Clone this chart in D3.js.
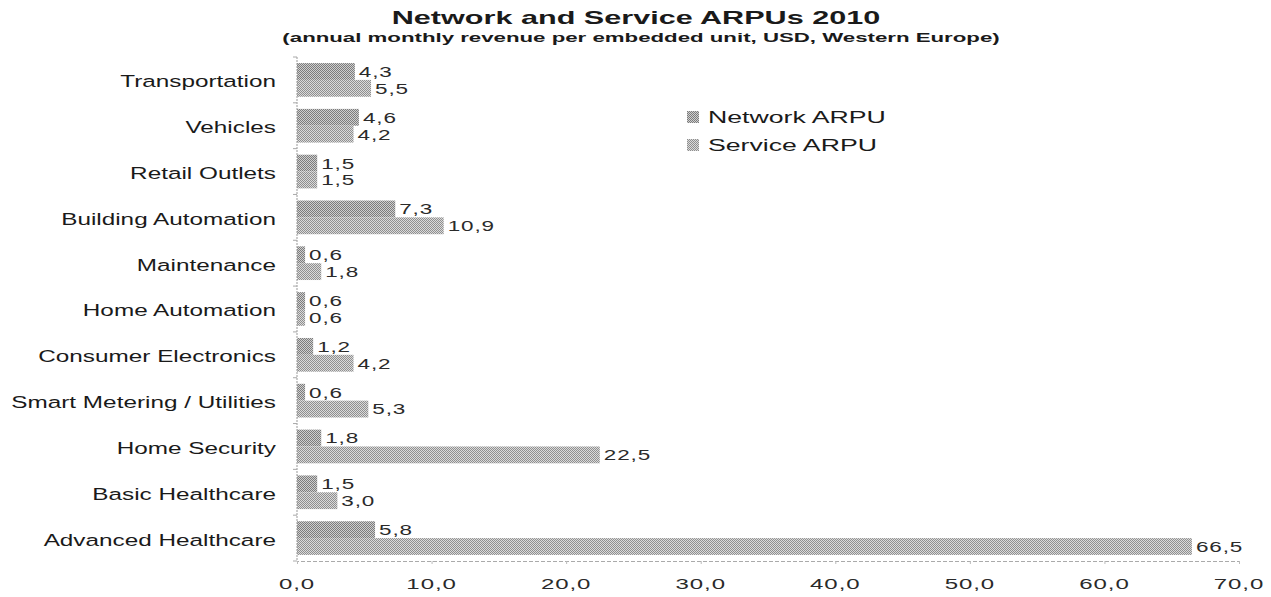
<!DOCTYPE html>
<html>
<head>
<meta charset="utf-8">
<script src="https://cdn.jsdelivr.net/npm/d3@7"></script>
<style>
  html, body { margin: 0; padding: 0; background: #fff; }
  svg { display: block; font-family: Arial, "Liberation Sans", sans-serif; }
</style>
</head>
<body>
<svg id="chart" width="1271" height="597"></svg>
<script>
// ARPU by application area, Western Europe 2010 (USD per embedded unit per month)
const categories = [
  "Transportation", "Vehicles", "Retail Outlets", "Building Automation",
  "Maintenance", "Home Automation", "Consumer Electronics",
  "Smart Metering / Utilities", "Home Security", "Basic Healthcare",
  "Advanced Healthcare"
];
const networkARPU = [4.3, 4.6, 1.5, 7.3, 0.6, 0.6, 1.2, 0.6, 1.8, 1.5, 5.8];
const serviceARPU = [5.5, 4.2, 1.5, 10.9, 1.8, 0.6, 4.2, 5.3, 22.5, 3.0, 66.5];
const seriesNames = ["Network ARPU", "Service ARPU"];
const xTicks = [0, 10, 20, 30, 40, 50, 60, 70];

const svg = d3.select("#chart");
const margin = { left: 297, right: 32, top: 57, bottom: 36 };
const W = 1271, H = 597;

// Decimal comma formatting
const locale = d3.formatLocale({ decimal: ",", thousands: ".", grouping: [3], currency: ["", ""] });
const fmt = locale.format(".1f");

// Text drawn with a horizontal stretch (wide typeface look)
function wideText(parent, x, y, str, sx, opts) {
  const t = parent.append("text")
    .attr("transform", `translate(${x},${y}) scale(${sx},1)`)
    .attr("dy", "0.35em")
    .attr("fill", opts.fill || "#1a1a1a")
    .attr("font-size", opts.size)
    .attr("text-anchor", opts.anchor || "start")
    .text(str);
  if (opts.bold) t.attr("font-weight", "bold");
  if (opts.spacing) t.attr("letter-spacing", opts.spacing);
  return t;
}

// Stippled (checkerboard) fills for the two series
const defs = svg.append("defs");
function stipple(id, dark, light) {
  const p = defs.append("pattern").attr("id", id)
    .attr("patternUnits", "userSpaceOnUse").attr("width", 2).attr("height", 2);
  p.append("rect").attr("width", 2).attr("height", 2).attr("fill", light);
  p.append("rect").attr("x", 0).attr("y", 0).attr("width", 1).attr("height", 1).attr("fill", dark);
  p.append("rect").attr("x", 1).attr("y", 1).attr("width", 1).attr("height", 1).attr("fill", dark);
}
stipple("patNet", "#7c7c7c", "#cfcfcf");
stipple("patSvc", "#8f8f8f", "#dadada");
const fills = ["url(#patNet)", "url(#patSvc)"];

const x = d3.scaleLinear().domain([0, 70]).range([margin.left, margin.left + 942]);
const y = d3.scaleBand().domain(categories)
  .range([margin.top, H - margin.bottom]).paddingInner(0).paddingOuter(0);
const inner = d3.scaleBand().domain([0, 1])
  .range([0, y.bandwidth()]).paddingInner(0).paddingOuter(0.36);

// Title
wideText(svg, 636, 18, "Network and Service ARPUs 2010", 1.7, { size: 18, bold: true, anchor: "middle" });
wideText(svg, 641, 38, "(annual monthly revenue per embedded unit, USD, Western Europe)", 1.78,
  { size: 12.5, bold: true, anchor: "middle" });

// Bars and value labels
const rows = categories.map((c, i) => ({ c, vals: [networkARPU[i], serviceARPU[i]] }));
const g = svg.append("g");
rows.forEach(r => {
  r.vals.forEach((v, s) => {
    const top = y(r.c) + inner(s);
    g.append("rect")
      .attr("x", x(0)).attr("y", top)
      .attr("width", x(v) - x(0)).attr("height", inner.bandwidth())
      .attr("fill", fills[s]);
    wideText(g, x(v) + 4, top + inner.bandwidth() / 2, fmt(v), 1.45,
      { size: 15.5, fill: "#2a2a2a", spacing: 0.6 });
  });
});

// Category axis
const yAxis = svg.append("g").attr("transform", `translate(${x(0)},0)`);
yAxis.append("line").attr("x1", 0).attr("x2", 0)
  .attr("y1", margin.top).attr("y2", H - margin.bottom)
  .attr("stroke", "#999").attr("stroke-width", 1).attr("stroke-dasharray", "2,1");
categories.concat([null]).forEach((c, i) => {
  const yy = margin.top + i * y.step();
  yAxis.append("line").attr("x1", -4).attr("x2", 0).attr("y1", yy).attr("y2", yy)
    .attr("stroke", "#aaa");
});
categories.forEach(c => {
  wideText(yAxis, -21, y(c) + y.bandwidth() / 2 + 1.5, c, 1.43, { size: 17, anchor: "end" });
});

// Value axis
const xAxis = svg.append("g").attr("transform", `translate(0,${H - margin.bottom})`)
  .call(d3.axisBottom(x).tickValues(xTicks).tickFormat("").tickSize(3));
xAxis.select(".domain").attr("stroke", "#aaa").attr("stroke-dasharray", "4,2");
xAxis.selectAll(".tick line").attr("stroke", "#bbb");
xTicks.forEach(t => {
  wideText(xAxis, x(t), 23, fmt(t), 1.55, { size: 15.5, fill: "#2a2a2a", anchor: "middle", spacing: 0.6 });
});

// Legend
const legend = svg.append("g").attr("transform", "translate(687,111)");
seriesNames.forEach((name, i) => {
  const ly = i * 28;
  legend.append("rect").attr("x", 0).attr("y", ly).attr("width", 12).attr("height", 12)
    .attr("fill", fills[i]);
  wideText(legend, 21, ly + 6, name, 1.57, { size: 17 });
});
</script>
</body>
</html>
